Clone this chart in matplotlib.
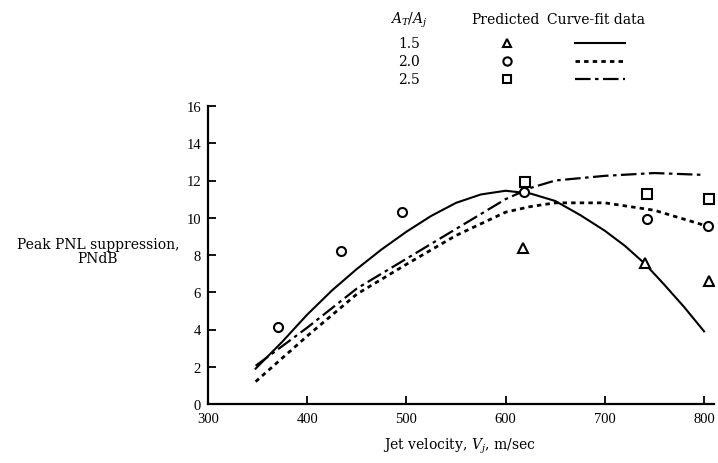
import numpy as np
import matplotlib
matplotlib.use("Agg")
import matplotlib.pyplot as plt
from matplotlib.lines import Line2D

# ---- data ----
ratios = ["1.5", "2.0", "2.5"]

# predicted points
pred_15_x = [617, 740, 805]
pred_15_y = [8.4, 7.55, 6.6]
pred_20_x = [371, 434, 496, 618, 742, 804]
pred_20_y = [4.15, 8.2, 10.3, 11.4, 9.95, 9.55]
pred_25_x = [620, 742, 805]
pred_25_y = [11.9, 11.25, 11.0]

# curve-fit data
fit_15_x = [348, 375, 400, 425, 450, 475, 500, 525, 550, 575, 600, 625,
            650, 675, 700, 720, 740, 760, 780, 800]
fit_15_y = [1.9, 3.35, 4.8, 6.1, 7.25, 8.3, 9.25, 10.1, 10.8, 11.25, 11.45, 11.3,
            10.9, 10.15, 9.3, 8.5, 7.55, 6.4, 5.2, 3.9]
fit_20_x = [348, 400, 450, 500, 550, 600, 625, 650, 700, 750, 800]
fit_20_y = [1.2, 3.65, 5.9, 7.5, 9.05, 10.3, 10.6, 10.8, 10.8, 10.4, 9.6]
fit_25_x = [348, 400, 450, 500, 550, 600, 625, 650, 700, 750, 800]
fit_25_y = [2.05, 4.1, 6.2, 7.8, 9.4, 11.0, 11.6, 12.0, 12.25, 12.4, 12.3]

xticks = [300, 400, 500, 600, 700, 800]
yticks = [0, 2, 4, 6, 8, 10, 12, 14, 16]

plt.rcParams["font.family"] = ["Liberation Serif", "DejaVu Serif"]
plt.rcParams["font.size"] = 10.5
plt.rcParams["mathtext.fontset"] = "dejavuserif"

label_font = dict(family="DejaVu Serif", size=10)

fig = plt.figure(figsize=(7.18, 4.64), dpi=100)
ax = fig.add_axes([208 / 718, 1 - 405 / 464, (714 - 208) / 718, (405 - 107) / 464])

styles = {
    "1.5": dict(ls="-", lw=1.5),
    "2.0": dict(ls=(0, (1.6, 1.5)), lw=2.0),
    "2.5": dict(ls=(0, (7, 2, 1.6, 2)), lw=1.6),
}
markers = {"1.5": "^", "2.0": "o", "2.5": "s"}

ax.plot(fit_15_x, fit_15_y, color="black", **styles["1.5"])
ax.plot(fit_20_x, fit_20_y, color="black", **styles["2.0"])
ax.plot(fit_25_x, fit_25_y, color="black", **styles["2.5"])

mk = dict(ls="none", mfc="white", mec="black", mew=1.5, ms=6.5, zorder=3)
ax.plot(pred_15_x, pred_15_y, marker="^", **mk)
ax.plot(pred_20_x, pred_20_y, marker="o", **mk)
ax.plot(pred_25_x, pred_25_y, marker="s", **mk)

ax.set_xlim(300, 810)
ax.set_ylim(0, 16)
ax.set_xticks(xticks)
ax.set_yticks(yticks)
ax.tick_params(direction="in", length=6, width=1.3, color="black")
ax.tick_params(axis="x", pad=6)
ax.tick_params(axis="y", pad=5)
ax.spines["top"].set_visible(False)
ax.spines["right"].set_visible(False)
ax.spines["left"].set_linewidth(1.6)
ax.spines["bottom"].set_linewidth(1.6)

fig.text(98 / 718, 1 - 252 / 464, "Peak PNL suppression,\nPNdB",
         ha="center", va="center", linespacing=1.05, **label_font)
fig.text(459 / 718, 1 - 446 / 464, "Jet velocity, $V_j$, m/sec",
         ha="center", va="center", **label_font)

# ---- table-style legend at the top ----
lax = fig.add_axes([0, 0, 1, 1], facecolor="none")
lax.set_xlim(0, 718)
lax.set_ylim(464, 0)
lax.axis("off")
lax.text(409, 20, "$A_T/A_j$", ha="center", va="center", **label_font)
lax.text(505, 20, "Predicted", ha="center", va="center", **label_font)
lax.text(596, 20, "Curve-fit data", ha="center", va="center", **label_font)
for i, r in enumerate(ratios):
    yy = 44 + 18 * i
    lax.text(409, yy, r, ha="center", va="center", **label_font)
    lax.plot([507], [yy], marker=markers[r], ls="none", mfc="white",
             mec="black", mew=1.5, ms=6)
    lax.add_line(Line2D([575, 625], [yy, yy], color="black", **styles[r]))

fig.savefig("out.png", dpi=100)
